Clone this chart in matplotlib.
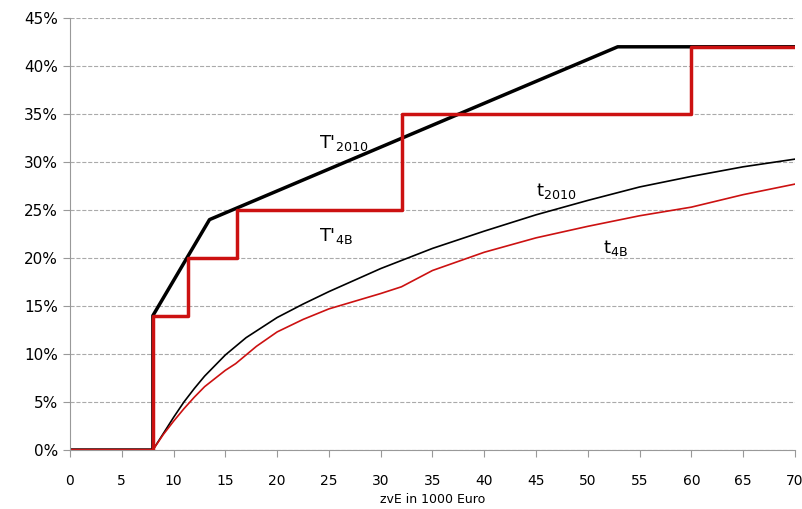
import numpy as np
import matplotlib.pyplot as plt

# marginal rates (step / kinked)
x_T2010 = [0, 8.004, 8.004, 13.47, 52.88, 70]
y_T2010 = [0, 0, 14, 24, 42, 42]
x_T4B = [0, 8.004, 8.004, 11.4, 11.4, 16.1, 16.1, 32.1, 32.1, 60, 60, 70]
y_T4B = [0, 0, 14, 14, 20, 20, 25, 25, 35, 35, 42, 42]

# average rates
x_avg = [0, 8, 9, 10, 11, 12, 13, 15, 17, 20, 22.5, 25, 30, 35, 40, 45, 50, 55, 60, 65, 70]
t2010 = [0, 0, 1.7, 3.4, 5.0, 6.4, 7.7, 9.9, 11.7, 13.8, 15.2, 16.5, 18.9, 21, 22.8, 24.5, 26, 27.4, 28.5, 29.5, 30.3]
x_4b = [0, 8, 9, 10, 11, 12, 13, 15, 16, 18, 20, 22.5, 25, 30, 32, 35, 40, 45, 50, 55, 60, 65, 70]
t4B = [0, 0, 1.6, 3.0, 4.3, 5.5, 6.6, 8.3, 9.0, 10.8, 12.3, 13.6, 14.7, 16.3, 17.0, 18.7, 20.6, 22.1, 23.3, 24.4, 25.3, 26.6, 27.7]

fig = plt.figure(figsize=(8.03, 5.09), dpi=100)
ax = fig.add_axes([70/803, 59/509, 725/803, 432/509])
ax.plot(x_avg, t2010, color='black', lw=1.2)
ax.plot(x_4b, t4B, color='#cc1111', lw=1.2)
ax.plot(x_T2010, y_T2010, color='black', lw=2.5)
ax.plot(x_T4B, y_T4B, color='#cc1111', lw=2.5)

ax.set_xlim(0, 70)
ax.set_ylim(0, 45)
ax.set_xticks(np.arange(0, 71, 5))
ax.set_yticks(np.arange(0, 46, 5))
ax.set_yticklabels([f"{v}%" for v in range(0, 46, 5)])
ax.yaxis.grid(True, ls='--', color='#aaaaaa', lw=0.8)
for s in ['top', 'right']:
    ax.spines[s].set_visible(False)
for s in ['left', 'bottom']:
    ax.spines[s].set_color('#999999')
ax.tick_params(axis='x', direction='out', length=5, color='#999999', labelsize=10, pad=12)
ax.tick_params(axis='y', length=5, color='#999999', labelsize=11)
ax.set_xlabel("zvE in 1000 Euro", fontsize=9)

ax.text(24, 31.5, r"T'$_{\mathrm{2010}}$", fontsize=13)
ax.text(24, 21.8, r"T'$_{\mathrm{4B}}$", fontsize=13)
ax.text(45, 26.5, r"t$_{\mathrm{2010}}$", fontsize=13)
ax.text(51.5, 20.5, r"t$_{\mathrm{4B}}$", fontsize=13)

plt.savefig("out.png")
